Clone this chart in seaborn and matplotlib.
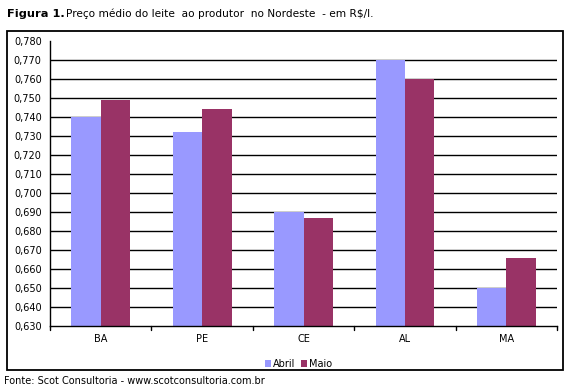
import matplotlib
matplotlib.use("Agg")
import matplotlib.pyplot as plt
import seaborn as sns
import pandas as pd
import numpy as np
from matplotlib.patches import Rectangle

# dados da figura
estados = ["BA", "PE", "CE", "AL", "MA"]
abril = [0.740, 0.732, 0.690, 0.770, 0.650]
maio = [0.749, 0.744, 0.687, 0.760, 0.666]
meses = ["Abril", "Maio"]
cores = ["#9999FF", "#993366"]

df = pd.DataFrame({
    "estado": estados * 2,
    "mes": [meses[0]] * len(estados) + [meses[1]] * len(estados),
    "preco": abril + maio,
})

sns.set_style("white")
plt.rcParams["font.family"] = ["DejaVu Sans"]
plt.rcParams["text.color"] = "black"
plt.rcParams["xtick.color"] = "black"
plt.rcParams["ytick.color"] = "black"

fig = plt.figure(figsize=(5.71, 3.91), dpi=100)
ax = fig.add_axes([0.0876, 0.166, 0.888, 0.729])

sns.barplot(data=df, x="estado", y="preco", hue="mes", palette=cores,
            width=0.58, saturation=1, ax=ax, legend=True,
            linewidth=0, edgecolor="none", zorder=3)

ax.set_ylim(0.630, 0.780)
yt = np.round(np.arange(0.630, 0.7801, 0.010), 3)
ax.set_yticks(yt)
ax.set_yticklabels([f"{v:.3f}".replace(".", ",") for v in yt], fontsize=7)
for v in yt[1:-1]:
    ax.axhline(v, color="black", lw=1, zorder=1)
ax.set_xlim(-0.5, len(estados) - 0.5)
ax.set_xticks(range(len(estados)))
ax.set_xticklabels(estados, fontsize=7)
ax.tick_params(axis="x", length=0, pad=6)
ax.tick_params(axis="y", length=4, width=1, direction="out", color="black", pad=2)
for xb in np.arange(-0.5, len(estados), 1.0):
    ax.plot([xb, xb], [0, -0.012], transform=ax.get_xaxis_transform(),
            color="black", lw=1, clip_on=False)
ax.set_xlabel("")
ax.set_ylabel("")
for s in ["top", "right"]:
    ax.spines[s].set_visible(False)
for s in ["left", "bottom"]:
    ax.spines[s].set_color("black")
    ax.spines[s].set_linewidth(1)
    ax.spines[s].set_zorder(4)

leg = ax.legend(loc="upper center", bbox_to_anchor=(0.49, -0.085), ncol=2,
                frameon=False, fontsize=7, handlelength=0.7, handleheight=0.7,
                handletextpad=0.2, columnspacing=0.5)

# moldura externa
fig.patches.append(Rectangle((7 / 571, 1 - 370 / 391), 556 / 571, 339 / 391,
                             transform=fig.transFigure, fill=False,
                             edgecolor="black", lw=1.3))

fig.text(7 / 571, 1 - 14 / 391, "Figura 1.", fontsize=8.2, fontweight="bold",
         va="center", ha="left")
fig.text(66 / 571, 1 - 14 / 391,
         "Preço médio do leite  ao produtor  no Nordeste  - em R$/l.",
         fontsize=7.6, va="center", ha="left")
fig.text(4 / 571, 1 - 381 / 391,
         "Fonte: Scot Consultoria - www.scotconsultoria.com.br",
         fontsize=7, va="center", ha="left")

fig.savefig("out.png", dpi=100)
